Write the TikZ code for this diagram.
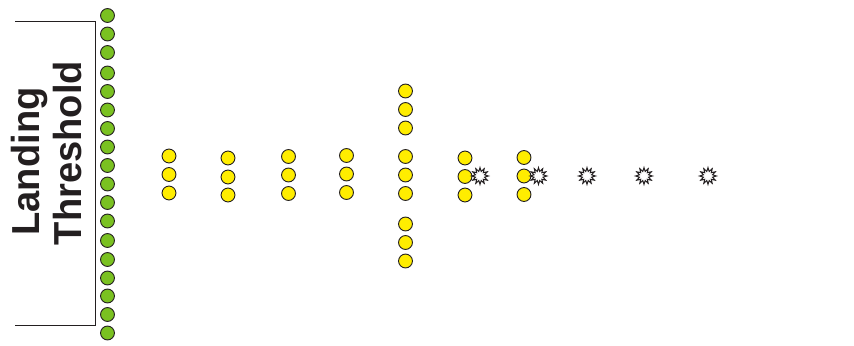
\documentclass[tikz,border=0pt]{standalone}
\usepackage{fontspec}
\setmainfont{Liberation Sans}
\usetikzlibrary{shapes.geometric}
\definecolor{lampgreen}{RGB}{122,193,33}
\definecolor{lampyellow}{RGB}{255,237,0}
\definecolor{ink}{RGB}{35,31,32}
\tikzset{
  x=0.75pt,y=-0.75pt,
  greenlamp/.style={circle,draw=ink,fill=lampgreen,line width=0.7pt,minimum size=10.4pt,inner sep=0pt},
  yellowlamp/.style={circle,draw=ink,fill=lampyellow,line width=0.7pt,minimum size=10.4pt,inner sep=0pt},
  burst/.style={star,star points=12,star point ratio=1.8,draw=ink,fill=white,line width=0.75pt,minimum size=12.6pt,inner sep=0pt},
  bracket/.style={draw=ink,line width=0.7pt},
  label/.style={rotate=90,anchor=base,font=\bfseries\fontsize{29.3pt}{29.3pt}\selectfont,text=ink,inner sep=0pt}
}
\begin{document}
\begin{tikzpicture}
\useasboundingbox (0,0) rectangle (854,346);
\coordinate (bt) at (15,21.5);
\coordinate (bc1) at (95.5,21.5);
\coordinate (bc2) at (95.5,325.5);
\coordinate (bb) at (15,325.5);
\draw[bracket] (bt) -- (bc1) -- (bc2) -- (bb);
\node[label] (landing) at (39.5,161.5) {\scalebox{0.975}[1]{Landing}};
\node[label] (threshold) at (81,153) {\scalebox{0.975}[1]{Threshold}};
\foreach \i/\y in {1/15.5,2/34,3/52.5,4/73,5/91.5,6/110,7/128.5,8/147,9/165.5,10/184,11/202.5,12/221,13/240.5,14/259.5,15/278,16/296,17/314.5,18/333}
  \node[greenlamp] (g\i) at (107.5,\y) {};
\foreach \n/\x/\y in {a1/169/156,a2/169/174.5,a3/169/193,
  b1/228/158,b2/228/177,b3/228/195,
  c1/288.5/156.5,c2/288.5/175,c3/288.5/193.5,
  d1/346.5/155.5,d2/346.5/174,d3/346.5/192.5,
  e1/405.5/91,e2/405.5/109.5,e3/405.5/128,
  e4/405.5/156.5,e5/405.5/175,e6/405.5/193.5,
  e7/405.5/224,e8/405.5/242.5,e9/405.5/261,
  f1/465/158,f2/465/176.5,f3/465/195,
  h1/524/157.5,h2/524/176,h3/524/194.5}
  \node[yellowlamp] (\n) at (\x,\y) {};
\foreach \n/\x in {s1/480,s2/538.5,s3/587,s4/644,s5/708}
  \node[burst] (\n) at (\x,176) {};
\end{tikzpicture}
\end{document}
